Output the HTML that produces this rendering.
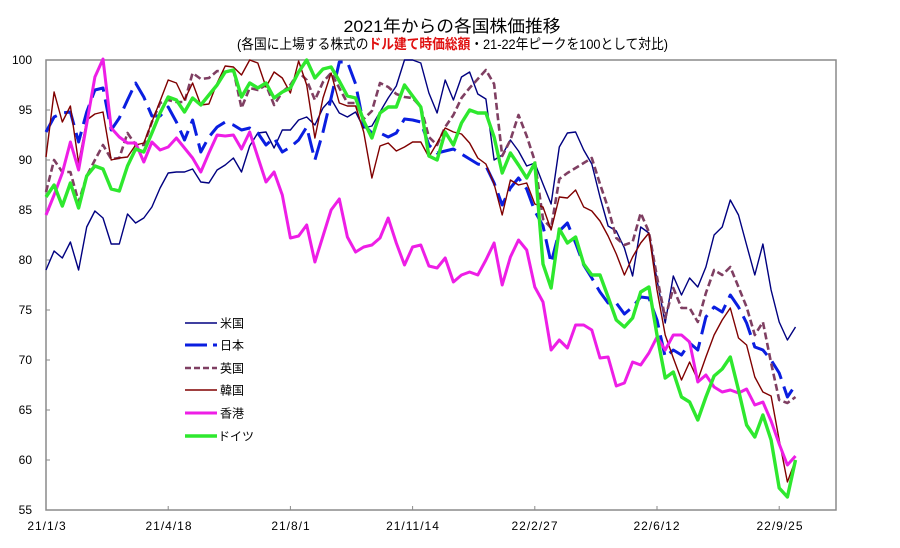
<!DOCTYPE html>
<html><head><meta charset="utf-8"><style>
html,body{margin:0;padding:0;background:#fff;}
svg{display:block;}
text{font-family:"Liberation Sans","Noto Sans CJK JP",sans-serif;}
</style></head><body>
<svg width="900" height="548" viewBox="0 0 900 548" xmlns="http://www.w3.org/2000/svg">
<rect width="900" height="548" fill="#fff"/>
<text x="452" y="32" font-size="17" text-anchor="middle" textLength="217" lengthAdjust="spacingAndGlyphs" fill="#000">2021年からの各国株価推移</text>
<text x="452.5" y="49" font-size="14" text-anchor="middle" textLength="431" lengthAdjust="spacingAndGlyphs" fill="#000">(各国に上場する株式の<tspan fill="#e01010" font-weight="bold">ドル建て時価総額</tspan>・21-22年ピークを100として対比)</text>

<!-- plot frame -->
<rect x="46" y="60" width="790" height="450" fill="none" stroke="#8a8a8a" stroke-width="1.5"/>
<g stroke="#8a8a8a" stroke-width="1">
<line x1="46" y1="110" x2="50" y2="110"/><line x1="46" y1="160" x2="50" y2="160"/><line x1="46" y1="210" x2="50" y2="210"/><line x1="46" y1="260" x2="50" y2="260"/><line x1="46" y1="310" x2="50" y2="310"/><line x1="46" y1="360" x2="50" y2="360"/><line x1="46" y1="410" x2="50" y2="410"/><line x1="46" y1="460" x2="50" y2="460"/>
<line x1="168.2" y1="506" x2="168.2" y2="510"/><line x1="290.4" y1="506" x2="290.4" y2="510"/><line x1="412.6" y1="506" x2="412.6" y2="510"/><line x1="534.8" y1="506" x2="534.8" y2="510"/><line x1="657" y1="506" x2="657" y2="510"/><line x1="779.2" y1="506" x2="779.2" y2="510"/>
</g>
<g font-size="12" text-anchor="end" fill="#000">
<text x="32" y="64">100</text><text x="32" y="114">95</text><text x="32" y="164">90</text><text x="32" y="214">85</text><text x="32" y="264">80</text><text x="32" y="314">75</text><text x="32" y="364">70</text><text x="32" y="414">65</text><text x="32" y="464">60</text><text x="32" y="514">55</text>
</g>
<g font-size="12" text-anchor="middle" fill="#000" letter-spacing="1">
<text x="47" y="530">21/1/3</text><text x="169" y="530">21/4/18</text><text x="291" y="530">21/8/1</text><text x="413" y="530">21/11/14</text><text x="535" y="530">22/2/27</text><text x="657" y="530">22/6/12</text><text x="780" y="530">22/9/25</text>
</g>

<g fill="none" stroke-linejoin="round">
<!-- 米国 -->
<polyline stroke="#000080" stroke-width="1.4" points="46,270 54.1,251 62.3,258 70.4,242 78.6,270 86.7,227 94.9,211 103,218 111.2,244 119.3,244 127.5,214 135.6,223 143.8,218 151.9,207 160.1,188 168.2,173 176.4,172 184.5,172 192.6,169 200.8,182 208.9,183 217.1,170 225.2,165 233.4,158 241.5,172 249.7,146 257.8,133 266,132 274.1,148 282.3,130 290.4,130 298.6,120 306.7,117 314.9,125 323,108 331.1,99 339.3,113 347.4,117 355.6,112 363.7,128 371.9,126 380,112 388.2,98 396.3,86 404.5,60 412.6,60 420.8,63 428.9,93 437.1,113 445.2,80 453.4,100 461.5,77 469.6,72 477.8,94 485.9,99 494.1,160 502.2,155 510.4,140 518.5,151 526.7,166 534.8,163 543,184 551.1,204 559.3,147 567.4,133 575.6,132 583.7,150 591.8,164 600,197 608.1,226 616.3,231 624.4,248 632.6,276 640.7,227 648.9,233 657,280 665.2,323 673.3,276 681.5,295 689.6,278 697.8,287 705.9,267 714.1,235 722.2,227 730.3,200 738.5,215 746.6,245 754.8,275 762.9,244 771.1,290 779.2,322 787.4,340 795.5,327"/>
<!-- 日本 -->
<polyline stroke="#0a1ee0" stroke-width="3" stroke-dasharray="20 8" points="46,132 54.1,117 62.3,113 70.4,112 78.6,142 86.7,112 94.9,90 103,88 111.2,130 119.3,118 127.5,100 135.6,83 143.8,97 151.9,116 160.1,116 168.2,107 176.4,122 184.5,140 192.6,120 200.8,152 208.9,137 217.1,127 225.2,122 233.4,125 241.5,130 249.7,128 257.8,133 266,145 274.1,138 282.3,152 290.4,147 298.6,140 306.7,127 314.9,160 323,132 331.1,98 339.3,62 347.4,62 355.6,84 363.7,125 371.9,133 380,133 388.2,137 396.3,133 404.5,119 412.6,120 420.8,122 428.9,145 437.1,153 445.2,151 453.4,149 461.5,154 469.6,159 477.8,164 485.9,166 494.1,183 502.2,205 510.4,188 518.5,178 526.7,189 534.8,211 543,226 551.1,263 559.3,231 567.4,223 575.6,243 583.7,265 591.8,278 600,292 608.1,303 616.3,303 624.4,314 632.6,307 640.7,297 648.9,298 657,320 665.2,357 673.3,350 681.5,355 689.6,343 697.8,350 705.9,317 714.1,307 722.2,312 730.3,295 738.5,307 746.6,323 754.8,347 762.9,350 771.1,360 779.2,373 787.4,397 795.5,385"/>
<!-- 英国 -->
<polyline stroke="#7f3f62" stroke-width="2.6" stroke-dasharray="7 3.5" points="46,192 54.1,160 62.3,172 70.4,172 78.6,202 86.7,176 94.9,160 103,145 111.2,159 119.3,158 127.5,133 135.6,145 143.8,145 151.9,122 160.1,103 168.2,100 176.4,102 184.5,102 192.6,73 200.8,79 208.9,78 217.1,71 225.2,72 233.4,70 241.5,108 249.7,88 257.8,90 266,85 274.1,105 282.3,92 290.4,85 298.6,72 306.7,80 314.9,100 323,82 331.1,73 339.3,88 347.4,103 355.6,103 363.7,119 371.9,111 380,83 388.2,87 396.3,94 404.5,97 412.6,98 420.8,107 428.9,137 437.1,145 445.2,127 453.4,115 461.5,98 469.6,88 477.8,79 485.9,70 494.1,84 502.2,156 510.4,140 518.5,115 526.7,136 534.8,161 543,219 551.1,228 559.3,179 567.4,173 575.6,168 583.7,163 591.8,158 600,184 608.1,208 616.3,238 624.4,245 632.6,242 640.7,213 648.9,232 657,277 665.2,318 673.3,288 681.5,308 689.6,308 697.8,322 705.9,293 714.1,270 722.2,275 730.3,267 738.5,287 746.6,307 754.8,335 762.9,322 771.1,363 779.2,400 787.4,403 795.5,397"/>
<!-- 韓国 -->
<polyline stroke="#800000" stroke-width="1.4" points="46,157 54.1,92 62.3,122 70.4,106 78.6,163 86.7,120 94.9,114 103,112 111.2,160 119.3,158 127.5,157 135.6,145 143.8,143 151.9,122 160.1,101 168.2,80 176.4,83 184.5,100 192.6,83 200.8,105 208.9,104 217.1,83 225.2,66 233.4,67 241.5,75 249.7,60 257.8,63 266,87 274.1,72 282.3,78 290.4,93 298.6,61 306.7,85 314.9,138 323,98 331.1,73 339.3,103 347.4,106 355.6,106 363.7,132 371.9,178 380,146 388.2,143 396.3,151 404.5,147 412.6,142 420.8,142 428.9,157 437.1,143 445.2,128 453.4,132 461.5,134 469.6,143 477.8,158 485.9,164 494.1,184 502.2,215 510.4,180 518.5,185 526.7,183 534.8,204 543,207 551.1,230 559.3,197 567.4,198 575.6,190 583.7,207 591.8,211 600,221 608.1,236 616.3,254 624.4,275 632.6,257 640.7,243 648.9,233 657,290 665.2,335 673.3,358 681.5,380 689.6,362 697.8,380 705.9,357 714.1,335 722.2,320 730.3,308 738.5,338 746.6,345 754.8,377 762.9,392 771.1,396 779.2,440 787.4,482 795.5,460"/>
<!-- 香港 -->
<polyline stroke="#ee1ee6" stroke-width="3" points="46,215 54.1,195 62.3,173 70.4,142 78.6,170 86.7,124 94.9,77 103,59 111.2,128 119.3,137 127.5,143 135.6,143 143.8,162 151.9,142 160.1,150 168.2,147 176.4,138 184.5,148 192.6,158 200.8,172 208.9,153 217.1,135 225.2,136 233.4,135 241.5,149 249.7,132 257.8,157 266,182 274.1,172 282.3,195 290.4,238 298.6,236 306.7,225 314.9,262 323,236 331.1,210 339.3,199 347.4,237 355.6,252 363.7,247 371.9,245 380,238 388.2,218 396.3,243 404.5,265 412.6,247 420.8,245 428.9,266 437.1,268 445.2,258 453.4,282 461.5,275 469.6,272 477.8,275 485.9,260 494.1,243 502.2,285 510.4,257 518.5,240 526.7,250 534.8,287 543,302 551.1,350 559.3,340 567.4,348 575.6,325 583.7,325 591.8,330 600,358 608.1,357 616.3,386 624.4,383 632.6,362 640.7,365 648.9,353 657,337 665.2,350 673.3,335 681.5,335 689.6,342 697.8,382 705.9,375 714.1,387 722.2,392 730.3,390 738.5,393 746.6,389 754.8,405 762.9,402 771.1,421 779.2,444 787.4,465 795.5,456"/>
<!-- ドイツ -->
<polyline stroke="#2ee82e" stroke-width="3.4" points="46,197 54.1,185 62.3,206 70.4,183 78.6,208 86.7,176 94.9,166 103,169 111.2,189 119.3,191 127.5,166 135.6,149 143.8,152 151.9,133 160.1,113 168.2,97 176.4,100 184.5,112 192.6,98 200.8,105 208.9,95 217.1,85 225.2,72 233.4,70 241.5,97 249.7,83 257.8,88 266,83 274.1,98 282.3,92 290.4,88 298.6,72 306.7,60 314.9,78 323,69 331.1,67 339.3,81 347.4,96 355.6,98 363.7,121 371.9,138 380,113 388.2,107 396.3,107 404.5,85 412.6,96 420.8,107 428.9,156 437.1,160 445.2,132 453.4,145 461.5,123 469.6,110 477.8,113 485.9,113 494.1,137 502.2,173 510.4,153 518.5,165 526.7,178 534.8,163 543,264 551.1,288 559.3,229 567.4,243 575.6,237 583.7,264 591.8,275 600,275 608.1,297 616.3,320 624.4,327 632.6,318 640.7,292 648.9,287 657,335 665.2,378 673.3,372 681.5,397 689.6,402 697.8,420 705.9,397 714.1,376 722.2,369 730.3,357 738.5,390 746.6,425 754.8,437 762.9,415 771.1,440 779.2,488 787.4,497 795.5,460"/>
</g>

<!-- legend -->
<g fill="none">
<line x1="185" y1="323" x2="217" y2="323" stroke="#000080" stroke-width="1.4"/>
<line x1="185" y1="345" x2="217" y2="345" stroke="#0a1ee0" stroke-width="3" stroke-dasharray="22 6"/>
<line x1="185" y1="368" x2="217" y2="368" stroke="#7f3f62" stroke-width="2.6" stroke-dasharray="6 3"/>
<line x1="185" y1="390" x2="217" y2="390" stroke="#800000" stroke-width="1.4"/>
<line x1="185" y1="413" x2="217" y2="413" stroke="#ee1ee6" stroke-width="3"/>
<line x1="185" y1="436" x2="217" y2="436" stroke="#2ee82e" stroke-width="3.4"/>
</g>
<g font-size="12" fill="#000">
<text x="220" y="327.5">米国</text>
<text x="220" y="349.5">日本</text>
<text x="220" y="372.5">英国</text>
<text x="220" y="394.5">韓国</text>
<text x="220" y="417.5">香港</text>
<text x="218" y="440.5">ドイツ</text>
</g>
</svg>
</body></html>
